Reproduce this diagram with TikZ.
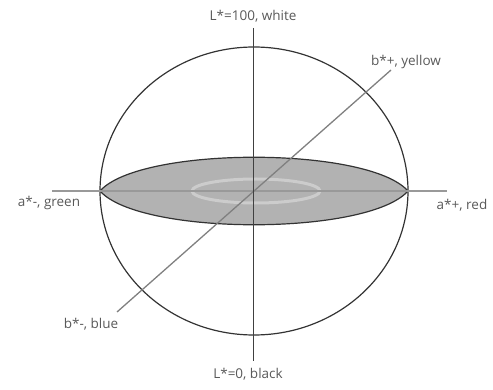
\documentclass[tikz,border=0pt]{standalone}
\usepackage{fontspec}
\setmainfont{Open Sans}
\begin{document}
\begin{tikzpicture}[x=1pt,y=-1pt,
  lbl/.style={font=\fontsize{13.5}{15}\selectfont, text=black!65, inner sep=0pt},
  axisdark/.style={draw=black!75, line width=0.9pt},
  axislight/.style={draw=black!40, line width=1.3pt},
  outline/.style={draw=black!80, line width=1.2pt}]
\useasboundingbox (0,0) rectangle (493,390);
\coordinate (C) at (254,191);
\coordinate (L) at (100,191);
\coordinate (R) at (408,191);
\coordinate (Ltop) at (253,28);
\coordinate (Lbot) at (253,361);
\coordinate (Aneg) at (52,191);
\coordinate (Apos) at (447,191);
\coordinate (Bneg) at (117,312);
\coordinate (Bpos) at (391,70);
% sphere
\draw[outline] (C) ellipse [x radius=154, y radius=144];
% disk
\filldraw[outline, fill=black!30] (L) .. controls (140,146) and (368,146) .. (R)
  .. controls (368,236) and (140,236) .. (L) -- cycle;
\draw[draw=black!20, line width=3pt] (256,191) ellipse [x radius=64, y radius=12];
% axes
\draw[axislight] (Aneg) -- (Apos);
\draw[axislight, draw=black!50] (Bneg) -- (Bpos);
\draw[axisdark] (Ltop) -- (Lbot);
% labels
\node[lbl] (tw) at (253,16) {L*=100, white};
\node[lbl] (ty) at (406,62) {b*+, yellow};
\node[lbl] (tg) at (49,203) {a*-, green};
\node[lbl] (tr) at (462,205) {a*+, red};
\node[lbl] (tb) at (91,324) {b*-, blue};
\node[lbl] (tk) at (248,374) {L*=0, black};
\end{tikzpicture}
\end{document}
